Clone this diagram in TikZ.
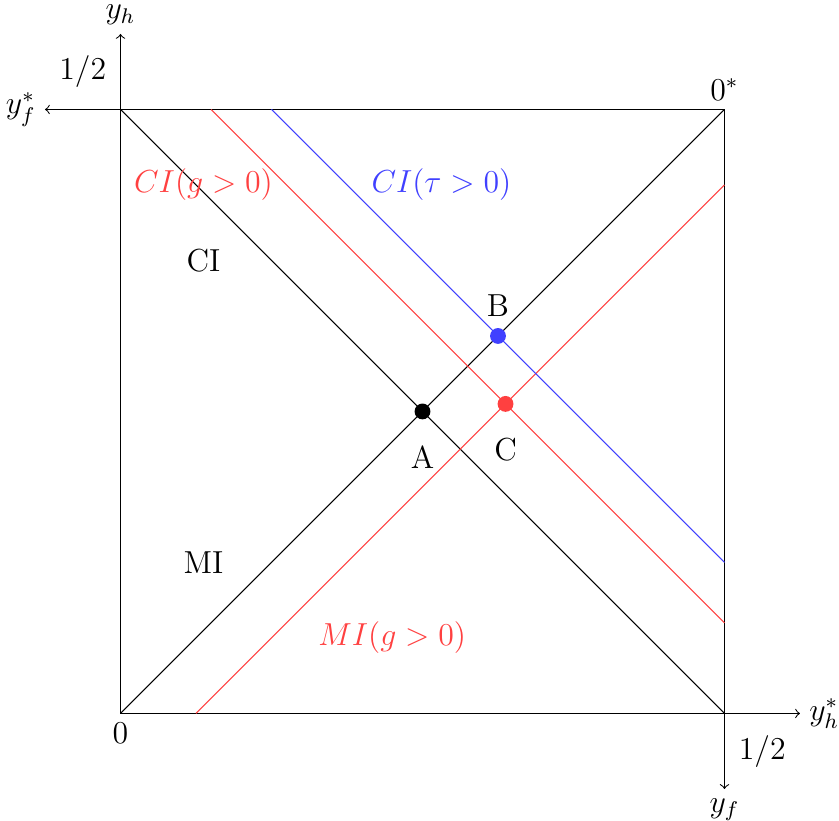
\documentclass[tikz,border=0pt]{standalone}
\usepackage{amsfonts, amssymb, amsmath}
\usepackage{tikz}

\begin{document}
\begin{tikzpicture}[scale=1, font=\large,
    dot/.style={circle, inner sep=0pt, minimum size=0.21cm},
    redline/.style={red!75},
    blueline/.style={blue!75}]
    \useasboundingbox (-1.596,-1.424) rectangle (9.517,9.450);
    % corners and axis ends
    \coordinate (O) at (0,0);
    \coordinate (T) at (8,8);
    \coordinate (L) at (0,8);
    \coordinate (R) at (8,0);
    \coordinate (Yh) at (0,9);
    \coordinate (Yfs) at (-1,8);
    \coordinate (Yhs) at (9,0);
    \coordinate (Yf) at (8,-1);
    % axes
    \draw[->] (O) -- (Yh);
    \draw[->] (T) -- (Yfs);
    \draw[->] (O) -- (Yhs);
    \draw[->] (T) -- (Yf);
    \node[above] (lyh) at (Yh) {$y_h$};
    \node[left] (lyfs) at (Yfs) {$y_f^*$};
    \node[right] (lyhs) at (Yhs) {$y_h^*$};
    \node[below] (lyf) at (Yf) {$y_f$};
    \node[below] (lO) at (O) {$0$};
    \node[above] (lT) at (T) {$0^*$};
    \node (halfh) at (-0.5,8.5) {$1/2$};
    \node (halff) at (8.5,-0.5) {$1/2$};
    % diagonals
    \draw (O) -- (T);
    \draw (L) -- (R);
    % shifted lines
    \coordinate (MIa) at (1,0);
    \coordinate (MIb) at (8,7);
    \coordinate (CIa) at (1.2,8);
    \coordinate (CIb) at (8,1.2);
    \coordinate (TAUa) at (2,8);
    \coordinate (TAUb) at (8,2);
    \draw[redline] (MIa) -- (MIb);
    \draw[redline] (CIa) -- (CIb);
    \draw[blueline] (TAUa) -- (TAUb);
    % equilibria
    \node[dot, fill=black] (A) at (4,4) {};
    \node[dot, fill=blue!75] (B) at (5,5) {};
    \node[dot, fill=red!75] (C) at (5.1,4.1) {};
    \node (lA) at (4,3.4) {A};
    \node (lB) at (5,5.4) {B};
    \node (lC) at (5.1,3.5) {C};
    % regions
    \node (ci) at (1.1,6) {CI};
    \node (mi) at (1.1,2) {MI};
    \node[red!75] (cig) at (1.1,7) {$CI(g>0)$};
    \node[blue!75] (citau) at (4.25,7) {$CI(\tau>0)$};
    \node[red!75] (mig) at (3.6,1) {$MI(g>0)$};
\end{tikzpicture}
\end{document}
